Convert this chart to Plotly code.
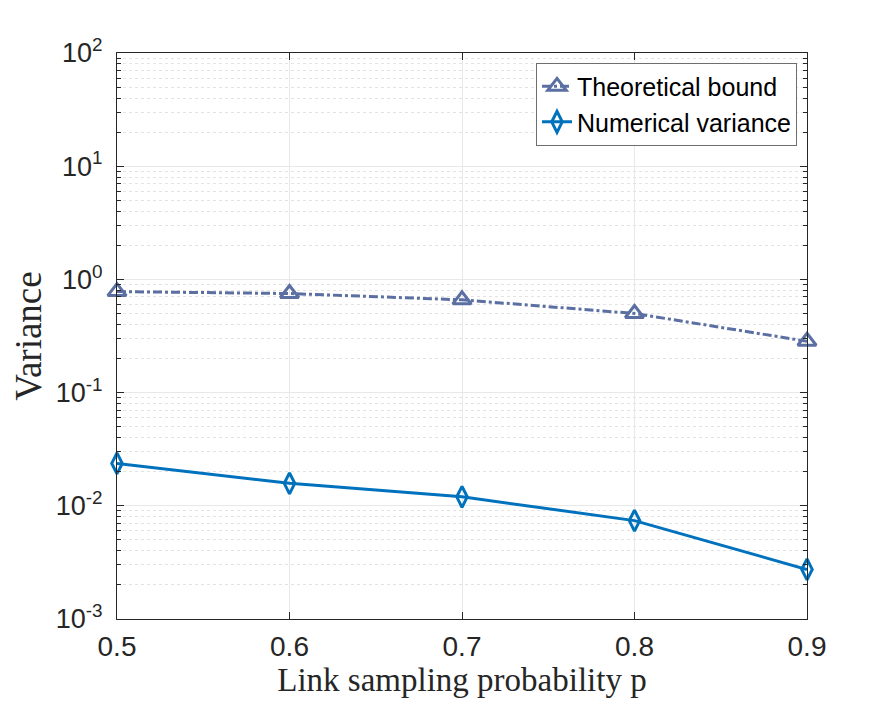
import plotly.graph_objects as go

# data
p_values = [0.5, 0.6, 0.7, 0.8, 0.9]
theoretical_bound = [0.78, 0.75, 0.66, 0.50, 0.284]
numerical_variance = [0.0237, 0.0158, 0.0120, 0.0074, 0.00274]

y_decades = [1e-3, 1e-2, 1e-1, 1e0, 1e1, 1e2]
y_ticklabels = ["10<sup>-3</sup>", "10<sup>-2</sup>", "10<sup>-1</sup>",
                "10<sup>0</sup>", "10<sup>1</sup>", "10<sup>2</sup>"]
x_ticks = [0.5, 0.6, 0.7, 0.8, 0.9]

minor_vals = [m * d for d in y_decades[:-1] for m in range(2, 10)]

axis_color = "#262626"
grid_color = "#e8e8e8"
serif = "Liberation Serif, DejaVu Serif, serif"
sans = "Liberation Sans, Arial, sans-serif"

fig = go.Figure()

fig.add_trace(go.Scatter(
    x=p_values, y=theoretical_bound,
    mode="lines+markers",
    name="Theoretical bound",
    cliponaxis=False,
    line=dict(color="#5b6fa3", width=3, dash="dashdot"),
    marker=dict(symbol="triangle-up-open", size=16, color="#5b6fa3",
                line=dict(width=3, color="#5b6fa3")),
))

fig.add_trace(go.Scatter(
    x=p_values, y=numerical_variance,
    mode="lines+markers",
    name="Numerical variance",
    cliponaxis=False,
    line=dict(color="#0072bd", width=3),
    marker=dict(symbol="diamond-tall-open", size=15, color="#0072bd",
                line=dict(width=3, color="#0072bd")),
))

# page body has an 8px margin, so the margins are shifted by that much
fig.update_layout(
    width=893, height=706,
    margin=dict(l=109, r=94, t=45, b=95),
    paper_bgcolor="white",
    plot_bgcolor="white",
    font=dict(family=sans, size=26, color=axis_color),
    showlegend=True,
    legend=dict(
        x=0.9855, y=0.983, xanchor="right", yanchor="top",
        bgcolor="white", bordercolor="#6e6e6e", borderwidth=1,
        font=dict(family=sans, size=25, color="black"),
        tracegroupgap=0, itemwidth=30,
    ),
    xaxis=dict(
        range=[0.5, 0.9],
        tickmode="array", tickvals=x_ticks,
        ticktext=[f"{v:.1f}" for v in x_ticks],
        ticks="inside", ticklen=7, tickcolor=axis_color,
        showline=True, linecolor=axis_color, linewidth=1, mirror="allticks",
        showgrid=True, gridcolor=grid_color, gridwidth=1,
        zeroline=False,
        tickfont=dict(size=28),
        ticklabelstandoff=2,
        title=dict(text="Link sampling probability p",
                   font=dict(family=serif, size=33, color=axis_color),
                   standoff=6),
    ),
    yaxis=dict(
        type="log",
        range=[-3, 2],
        tickmode="array", tickvals=y_decades, ticktext=y_ticklabels,
        ticks="inside", ticklen=7, tickcolor=axis_color,
        showline=True, linecolor=axis_color, linewidth=1, mirror="allticks",
        showgrid=True, gridcolor=grid_color, gridwidth=1,
        zeroline=False,
        tickfont=dict(size=27),
        ticklabelstandoff=8,
        minor=dict(
            tickmode="array", tickvals=minor_vals,
            ticks="inside", ticklen=4, tickcolor=axis_color,
            showgrid=True, gridcolor="#e3e3e3", griddash="dot", gridwidth=1,
        ),
        title=dict(text="Variance",
                   font=dict(family=serif, size=37, color=axis_color),
                   standoff=8),
    ),
)

fig.write_html("out.html")
